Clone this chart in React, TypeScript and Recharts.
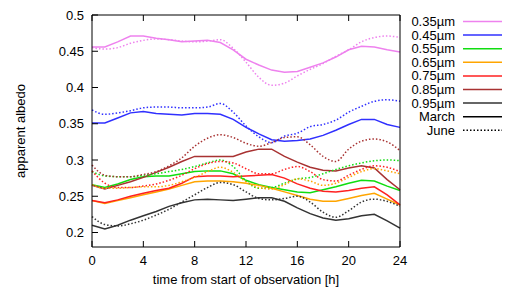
import React from 'react';
import { LineChart, Line, XAxis, YAxis } from 'recharts';

const hours = [0, 1, 2, 3, 4, 5, 6, 7, 8, 9, 10, 11, 12, 13, 14, 15, 16, 17, 18, 19, 20, 21, 22, 23, 24];

// March (solid) and June (dotted), one array per wavelength
const march035 = [0.456, 0.456, 0.463, 0.471, 0.471, 0.468, 0.466, 0.463, 0.464, 0.465, 0.462, 0.452, 0.439, 0.431, 0.424, 0.421, 0.422, 0.428, 0.434, 0.442, 0.452, 0.457, 0.456, 0.452, 0.449];
const june035 = [0.455, 0.453, 0.455, 0.461, 0.465, 0.467, 0.466, 0.464, 0.463, 0.464, 0.466, 0.454, 0.435, 0.414, 0.403, 0.406, 0.416, 0.425, 0.433, 0.443, 0.452, 0.463, 0.469, 0.471, 0.469];
const march045 = [0.351, 0.351, 0.358, 0.365, 0.367, 0.364, 0.363, 0.362, 0.364, 0.364, 0.363, 0.356, 0.345, 0.336, 0.328, 0.326, 0.327, 0.329, 0.334, 0.341, 0.349, 0.356, 0.356, 0.349, 0.345];
const june045 = [0.369, 0.363, 0.365, 0.368, 0.372, 0.373, 0.373, 0.372, 0.372, 0.373, 0.378, 0.366, 0.347, 0.332, 0.324, 0.333, 0.337, 0.346, 0.349, 0.355, 0.366, 0.374, 0.381, 0.383, 0.381];
const march055 = [0.266, 0.262, 0.267, 0.273, 0.277, 0.278, 0.278, 0.281, 0.284, 0.285, 0.285, 0.281, 0.272, 0.266, 0.262, 0.259, 0.256, 0.255, 0.259, 0.263, 0.268, 0.272, 0.271, 0.264, 0.258];
const june055 = [0.284, 0.278, 0.277, 0.277, 0.279, 0.281, 0.284, 0.287, 0.291, 0.296, 0.300, 0.291, 0.271, 0.261, 0.262, 0.268, 0.274, 0.276, 0.281, 0.287, 0.292, 0.296, 0.299, 0.300, 0.299];
const march065 = [0.244, 0.240, 0.244, 0.248, 0.252, 0.256, 0.260, 0.265, 0.270, 0.271, 0.271, 0.270, 0.268, 0.265, 0.261, 0.256, 0.251, 0.246, 0.243, 0.243, 0.247, 0.251, 0.254, 0.246, 0.238];
const june065 = [0.266, 0.261, 0.261, 0.262, 0.263, 0.263, 0.265, 0.270, 0.276, 0.284, 0.290, 0.283, 0.270, 0.262, 0.260, 0.266, 0.274, 0.271, 0.265, 0.268, 0.276, 0.284, 0.288, 0.285, 0.281];
const march075 = [0.244, 0.241, 0.245, 0.250, 0.254, 0.258, 0.261, 0.268, 0.277, 0.278, 0.278, 0.277, 0.278, 0.279, 0.280, 0.275, 0.267, 0.261, 0.257, 0.256, 0.258, 0.261, 0.263, 0.252, 0.238];
const june075 = [0.285, 0.268, 0.262, 0.262, 0.264, 0.267, 0.272, 0.279, 0.288, 0.295, 0.298, 0.296, 0.288, 0.281, 0.281, 0.287, 0.291, 0.284, 0.273, 0.271, 0.279, 0.287, 0.292, 0.290, 0.284];
const march085 = [0.265, 0.260, 0.265, 0.270, 0.276, 0.283, 0.290, 0.298, 0.305, 0.305, 0.305, 0.305, 0.311, 0.315, 0.315, 0.305, 0.297, 0.290, 0.286, 0.285, 0.289, 0.292, 0.289, 0.273, 0.259];
const june085 = [0.293, 0.279, 0.277, 0.277, 0.280, 0.284, 0.292, 0.303, 0.319, 0.330, 0.335, 0.331, 0.323, 0.319, 0.324, 0.331, 0.332, 0.321, 0.305, 0.298, 0.315, 0.326, 0.329, 0.325, 0.313];
const march095 = [0.210, 0.205, 0.210, 0.217, 0.223, 0.229, 0.236, 0.241, 0.245, 0.246, 0.245, 0.244, 0.246, 0.248, 0.248, 0.243, 0.234, 0.226, 0.220, 0.217, 0.219, 0.223, 0.225, 0.216, 0.206];
const june095 = [0.222, 0.211, 0.209, 0.212, 0.217, 0.224, 0.232, 0.242, 0.252, 0.262, 0.269, 0.266, 0.256, 0.247, 0.245, 0.247, 0.250, 0.242, 0.228, 0.221, 0.230, 0.242, 0.246, 0.243, 0.236];

const wavelengths = ['0.35µm', '0.45µm', '0.55µm', '0.65µm', '0.75µm', '0.85µm', '0.95µm'];
const colors = ['#ee82ee', '#3030ff', '#10dd10', '#ffa500', '#ff2020', '#a83232', '#333333'];
const marchSeries = [march035, march045, march055, march065, march075, march085, march095];
const juneSeries = [june035, june045, june055, june065, june075, june085, june095];

const xTicks = [0, 4, 8, 12, 16, 20, 24];
const yTicks = [0.2, 0.25, 0.3, 0.35, 0.4, 0.45, 0.5];
const yLabels = ['0.2', '0.25', '0.3', '0.35', '0.4', '0.45', '0.5'];

const data = hours.map((h, i) => {
    const row: { [key: string]: number } = { h };
    marchSeries.forEach((s, k) => { row['m' + k] = s[i]; });
    juneSeries.forEach((s, k) => { row['j' + k] = s[i]; });
    return row;
});

const font = { fontFamily: '"Liberation Sans", Arial, sans-serif', fontSize: 13, fill: '#000' };
const T = 6;

const BottomTick = ({ x, y, payload }: any) => (
    <g>
        <line x1={x} x2={x} y1={y} y2={y - T} stroke="#000" />
        <text x={x} y={y + 18} textAnchor="middle" style={font}>{payload.value}</text>
    </g>
);
const TopTick = ({ x, y }: any) => <line x1={x} x2={x} y1={y} y2={y + T} stroke="#000" />;
const LeftTick = ({ x, y, payload }: any) => (
    <g>
        <line x1={x} x2={x + T} y1={y} y2={y} stroke="#000" />
        <text x={x - 8} y={y + 4.5} textAnchor="end" style={font}>{yLabels[yTicks.indexOf(payload.value)] ?? payload.value}</text>
    </g>
);
const RightTick = ({ x, y }: any) => <line x1={x} x2={x - T} y1={y} y2={y} stroke="#000" />;

const Legend = () => {
    const rows = [
        ...wavelengths.map((w, k) => ({ label: w, color: colors[k], dash: undefined as string | undefined })),
        { label: 'March', color: '#000', dash: undefined },
        { label: 'June', color: '#000', dash: '1.5 2' },
    ];
    return (
        <svg width={118} height={150} style={{ position: 'absolute', left: 392, top: 0 }}>
            {rows.map((r, i) => {
                const cy = 13.5 + i * 13.6;
                return (
                    <g key={r.label}>
                        <text x={55} y={cy + 4.5} textAnchor="end" style={font}>{r.label}</text>
                        <line x1={63} x2={102} y1={cy} y2={cy} stroke={r.color} strokeWidth={1.5} strokeDasharray={r.dash} />
                    </g>
                );
            })}
        </svg>
    );
};

export default function App() {
    return (
        <div style={{ position: 'relative', width: 510, height: 282 }}>
            <LineChart width={510} height={282} data={data} margin={{ top: 0, right: 0, bottom: 0, left: 0 }}>
                <XAxis xAxisId="b" dataKey="h" type="number" domain={[0, 24]} ticks={xTicks} interval={0}
                    height={43} tickSize={0} tickMargin={0} tickLine={false} axisLine={{ stroke: '#000' }} tick={<BottomTick />} />
                <XAxis xAxisId="t" orientation="top" dataKey="h" type="number" domain={[0, 24]} ticks={xTicks} interval={0}
                    height={7} tickSize={0} tickMargin={0} tickLine={false} axisLine={{ stroke: '#000' }} tick={<TopTick />} />
                <YAxis yAxisId="l" type="number" domain={[0.18, 0.5]} ticks={yTicks} interval={0}
                    width={84} tickSize={0} tickMargin={0} tickLine={false} axisLine={{ stroke: '#000' }} tick={<LeftTick />} />
                <YAxis yAxisId="r" orientation="right" type="number" domain={[0.18, 0.5]} ticks={yTicks} interval={0}
                    width={118} tickSize={0} tickMargin={0} tickLine={false} axisLine={{ stroke: '#000' }} tick={<RightTick />} />
                {wavelengths.map((w, k) => (
                    <Line key={'m' + k} xAxisId="b" yAxisId="l" dataKey={'m' + k} type="linear" stroke={colors[k]}
                        strokeWidth={1.5} dot={false} activeDot={false} isAnimationActive={false} />
                ))}
                {wavelengths.map((w, k) => (
                    <Line key={'j' + k} xAxisId="b" yAxisId="l" dataKey={'j' + k} type="monotone" stroke={colors[k]}
                        strokeWidth={1.5} strokeDasharray="1.5 2" dot={false} activeDot={false} isAnimationActive={false} />
                ))}
                <text x={17} y={123} transform="rotate(-90 17 123)" textAnchor="middle" style={font}>apparent albedo</text>
                <text x={238} y={276} textAnchor="middle" style={font}>time from start of observation [h]</text>
            </LineChart>
            <Legend />
        </div>
    );
}
